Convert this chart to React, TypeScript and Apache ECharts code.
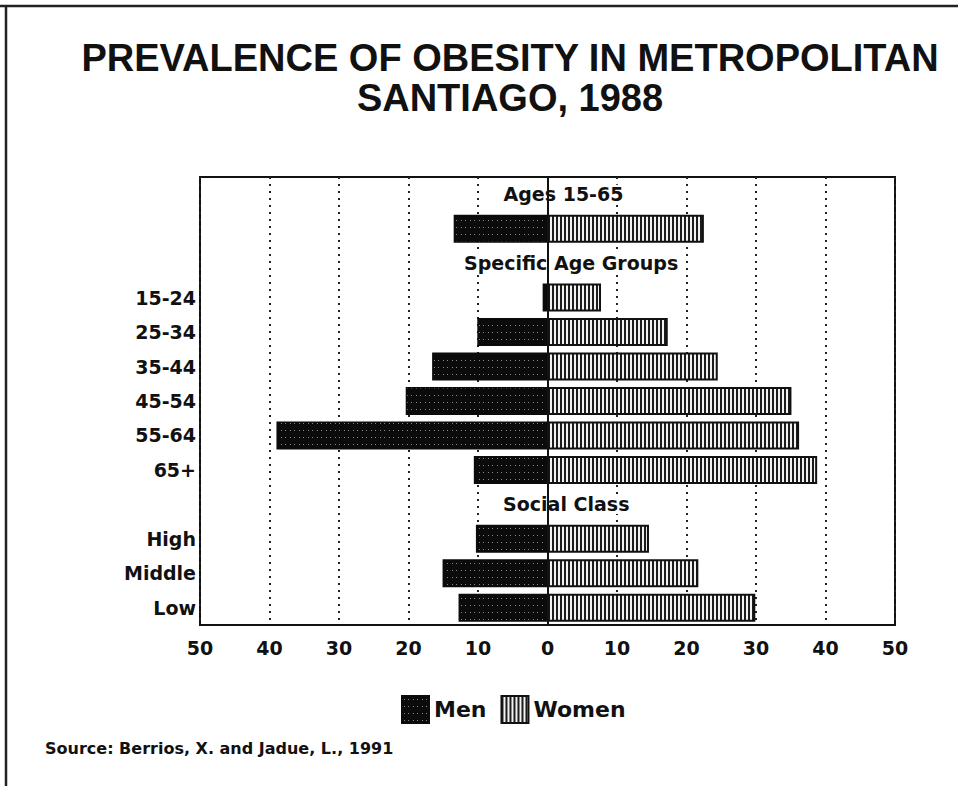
import React, { useEffect, useRef } from "react";
import * as echarts from "echarts";

// Obesity prevalence (%) in metropolitan Santiago, 1988
const sectionTitles = ["Ages 15-65", "Specific Age Groups", "Social Class"];
const overallLabel = "All ages 15-65";
const menOverall = 13.5;
const womenOverall = 22.5;

const ageGroups = ["15-24", "25-34", "35-44", "45-54", "55-64", "65+"];
const menByAge = [0.7, 10.1, 16.6, 20.4, 39.0, 10.6];
const womenByAge = [7.7, 17.3, 24.5, 35.1, 36.2, 38.8];

const socialClasses = ["High", "Middle", "Low"];
const menByClass = [10.3, 15.1, 12.8];
const womenByClass = [14.6, 21.7, 29.9];

// horizontal anchor (in axis units) for each section heading
const sectionTitleX = [2.3, 3.4, 2.7];

const LABEL_FONT = "DejaVu Sans";

function makePattern(kind: "men" | "women"): HTMLCanvasElement {
  const c = document.createElement("canvas");
  if (kind === "men") {
    c.width = 9;
    c.height = 7;
    const g = c.getContext("2d")!;
    g.fillStyle = "#0b0b0b";
    g.fillRect(0, 0, 9, 7);
    g.fillStyle = "#8a8a8a";
    g.fillRect(2, 3, 1, 1);
    g.fillRect(6, 3, 1, 1);
  } else {
    c.width = 4;
    c.height = 4;
    const g = c.getContext("2d")!;
    g.fillStyle = "#f2f2f2";
    g.fillRect(0, 0, 4, 4);
    g.fillStyle = "#1c1c1c";
    g.fillRect(0, 0, 2, 4);
  }
  return c;
}

export default function App() {
  const ref = useRef<HTMLDivElement>(null);

  useEffect(() => {
    if (!ref.current) return;
    const chart = echarts.init(ref.current, null, { renderer: "svg" });

    const rows = [
      sectionTitles[0],
      overallLabel,
      sectionTitles[1],
      ...ageGroups,
      sectionTitles[2],
      ...socialClasses,
    ];
    const labelled = new Set([...ageGroups, ...socialClasses]);

    const menData = [
      null,
      -menOverall,
      null,
      ...menByAge.map((v) => -v),
      null,
      ...menByClass.map((v) => -v),
    ];
    const womenData = [
      null,
      womenOverall,
      null,
      ...womenByAge,
      null,
      ...womenByClass,
    ];

    const headingData = sectionTitles.map((t, i) => ({
      name: t,
      value: [sectionTitleX[i], t],
    }));

    const menFill = { image: makePattern("men"), repeat: "repeat" };
    const womenFill = { image: makePattern("women"), repeat: "repeat" };

    chart.setOption({
      animation: false,
      backgroundColor: "#ffffff",
      title: {
        text: "PREVALENCE OF OBESITY IN METROPOLITAN\nSANTIAGO, 1988",
        left: 510,
        top: 38,
        textAlign: "center",
        padding: 0,
        textStyle: {
          fontFamily: "Liberation Sans",
          fontWeight: "bold",
          fontSize: 38,
          lineHeight: 40,
          color: "#111",
        },
      },
      grid: {
        left: 200,
        right: 63,
        top: 177,
        bottom: 161,
        show: true,
        borderColor: "#111",
        borderWidth: 2,
        backgroundColor: "transparent",
      },
      legend: {
        data: ["Men", "Women"],
        left: 396,
        top: 690,
        itemWidth: 27,
        itemHeight: 27,
        itemGap: 14,
        icon: "rect",
        textStyle: {
          fontFamily: LABEL_FONT,
          fontWeight: "bold",
          fontSize: 22,
          color: "#111",
        },
      },
      xAxis: {
        type: "value",
        min: -50,
        max: 50,
        interval: 10,
        axisLine: { show: false },
        axisTick: { show: false },
        axisLabel: {
          formatter: (v: number) => String(Math.abs(v)),
          fontFamily: LABEL_FONT,
          fontWeight: "bold",
          fontSize: 19,
          color: "#111",
          margin: 13,
        },
        splitLine: {
          show: true,
          lineStyle: { color: "#222", width: 2, type: [2, 5] },
        },
      },
      yAxis: {
        type: "category",
        inverse: true,
        data: rows,
        axisLine: { show: false },
        axisTick: { show: false },
        splitLine: { show: false },
        axisLabel: {
          formatter: (v: string) => (labelled.has(v) ? v : ""),
          fontFamily: LABEL_FONT,
          fontWeight: "bold",
          fontSize: 19,
          color: "#111",
          margin: 4,
        },
      },
      series: [
        {
          name: "Men",
          type: "bar",
          data: menData,
          barWidth: 28,
          barGap: "-100%",
          itemStyle: {
            color: menFill,
            borderColor: "#0b0b0b",
            borderWidth: 1.5,
          },
        },
        {
          name: "Women",
          type: "bar",
          data: womenData,
          barWidth: 28,
          barGap: "-100%",
          itemStyle: {
            color: womenFill,
            borderColor: "#111",
            borderWidth: 2,
          },
          markLine: {
            silent: true,
            symbol: "none",
            z: 10,
            label: { show: false },
            lineStyle: { color: "#111", width: 2, type: "solid" },
            data: [{ xAxis: 0 }],
          },
        },
        {
          name: "Sections",
          type: "scatter",
          data: headingData,
          symbolSize: 0,
          itemStyle: { color: "#111", opacity: 1 },
          label: {
            show: true,
            position: "inside",
            formatter: (p: any) => p.name,
            fontFamily: LABEL_FONT,
            fontWeight: "bold",
            fontSize: 19,
            color: "#111",
            opacity: 1,
            backgroundColor: "#ffffff",
            padding: [0, 1],
          },
        },
      ],
      graphic: [
        {
          type: "line",
          shape: { x1: 0, y1: 6, x2: 958, y2: 6 },
          style: { stroke: "#222", lineWidth: 2.5 },
        },
        {
          type: "line",
          shape: { x1: 6, y1: 6, x2: 6, y2: 786 },
          style: { stroke: "#222", lineWidth: 2.5 },
        },
        {
          type: "text",
          x: 45,
          y: 748,
          style: {
            text: "Source: Berrios, X. and Jadue, L., 1991",
            fontFamily: LABEL_FONT,
            fontWeight: "bold",
            fontSize: 16,
            fill: "#111",
            verticalAlign: "middle",
          },
        },
      ],
    });

    return () => chart.dispose();
  }, []);

  return (
    <div
      ref={ref}
      style={{ position: "fixed", left: 0, top: 0, width: 958, height: 786 }}
    />
  );
}
